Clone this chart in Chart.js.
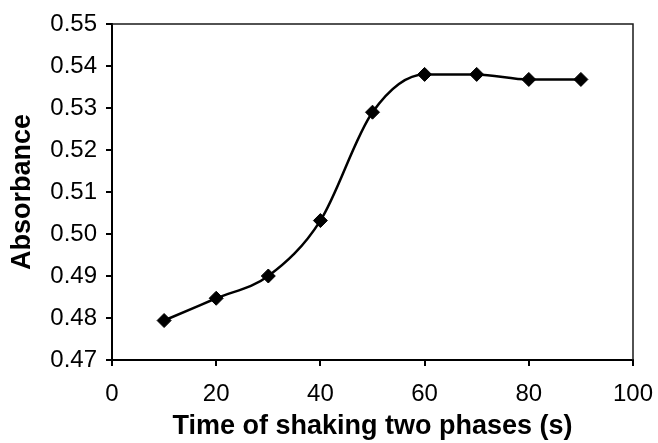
<!DOCTYPE html>
<html><head><meta charset="utf-8">
<script src="https://cdn.jsdelivr.net/npm/chart.js@4/dist/chart.umd.min.js"></script>
<style>html,body{margin:0;padding:0;background:#fff;}canvas{display:block}</style>
</head><body>
<canvas id="c" width="658" height="443"></canvas>
<script>
const timeSeconds = [10, 20, 30, 40, 50, 60, 70, 80, 90];
const absorbance = [0.4794, 0.4847, 0.4900, 0.5032, 0.5290, 0.5380, 0.5380, 0.5368, 0.5368];
const xTickValues = [0, 20, 40, 60, 80, 100];
const yTickValues = [0.47, 0.48, 0.49, 0.50, 0.51, 0.52, 0.53, 0.54, 0.55];
const xTitle = 'Time of shaking two phases (s)';
const yTitle = 'Absorbance';

const FONT = "'Liberation Sans', Arial, sans-serif";

const boxPlugin = {
  id: 'box',
  beforeDatasetsDraw(chart) {
    const a = chart.chartArea, ctx = chart.ctx;
    ctx.save();
    ctx.strokeStyle = '#1a1a1a';
    ctx.lineWidth = 1.5;
    ctx.beginPath();
    ctx.moveTo(a.left, a.top);
    ctx.lineTo(a.right, a.top);
    ctx.lineTo(a.right, a.bottom);
    ctx.stroke();
    ctx.restore();
  }
};

new Chart(document.getElementById('c'), {
  type: 'line',
  data: {
    datasets: [{
      data: timeSeconds.map((t, i) => ({x: t, y: absorbance[i]})),
      borderColor: '#000',
      backgroundColor: '#000',
      borderWidth: 2.5,
      cubicInterpolationMode: 'monotone',
      pointStyle: 'rectRot',
      pointRadius: 7,
      pointBorderWidth: 1,
      pointBackgroundColor: '#000',
      pointBorderColor: '#000',
      clip: false
    }]
  },
  options: {
    responsive: false,
    animation: false,
    layout: {padding: {top: 24, right: 25, left: 0, bottom: 0}},
    plugins: {legend: {display: false}, tooltip: {enabled: false}},
    scales: {
      x: {
        type: 'linear', min: 0, max: 100,
        afterBuildTicks: s => { s.ticks = xTickValues.map(v => ({value: v})); },
        afterFit: s => { s.height = 83; s.paddingLeft = 0; s.paddingRight = 0; },
        ticks: {color: '#000', font: {family: FONT, size: 24}, padding: 14, maxRotation: 0, autoSkip: false},
        grid: {drawOnChartArea: false, drawTicks: true, tickLength: 6, color: '#000', lineWidth: 2},
        border: {display: true, color: '#000', width: 2},
        title: {display: true, text: xTitle, color: '#000', font: {family: FONT, size: 27, weight: 'bold'}, padding: {top: 0, bottom: 0}}
      },
      y: {
        type: 'linear', min: 0.47, max: 0.55,
        afterBuildTicks: s => { s.ticks = yTickValues.map(v => ({value: v})); },
        afterFit: s => { s.width = 112; s.paddingTop = 0; s.paddingBottom = 0; },
        ticks: {color: '#000', font: {family: FONT, size: 24}, padding: 9, callback: v => Number(v).toFixed(2), autoSkip: false},
        grid: {drawOnChartArea: false, drawTicks: true, tickLength: 6, color: '#000', lineWidth: 2},
        border: {display: true, color: '#000', width: 2},
        title: {display: true, text: yTitle, color: '#000', font: {family: FONT, size: 27, weight: 'bold'}, padding: {top: 6, bottom: 0}}
      }
    }
  },
  plugins: [boxPlugin]
});
</script>
</body></html>
